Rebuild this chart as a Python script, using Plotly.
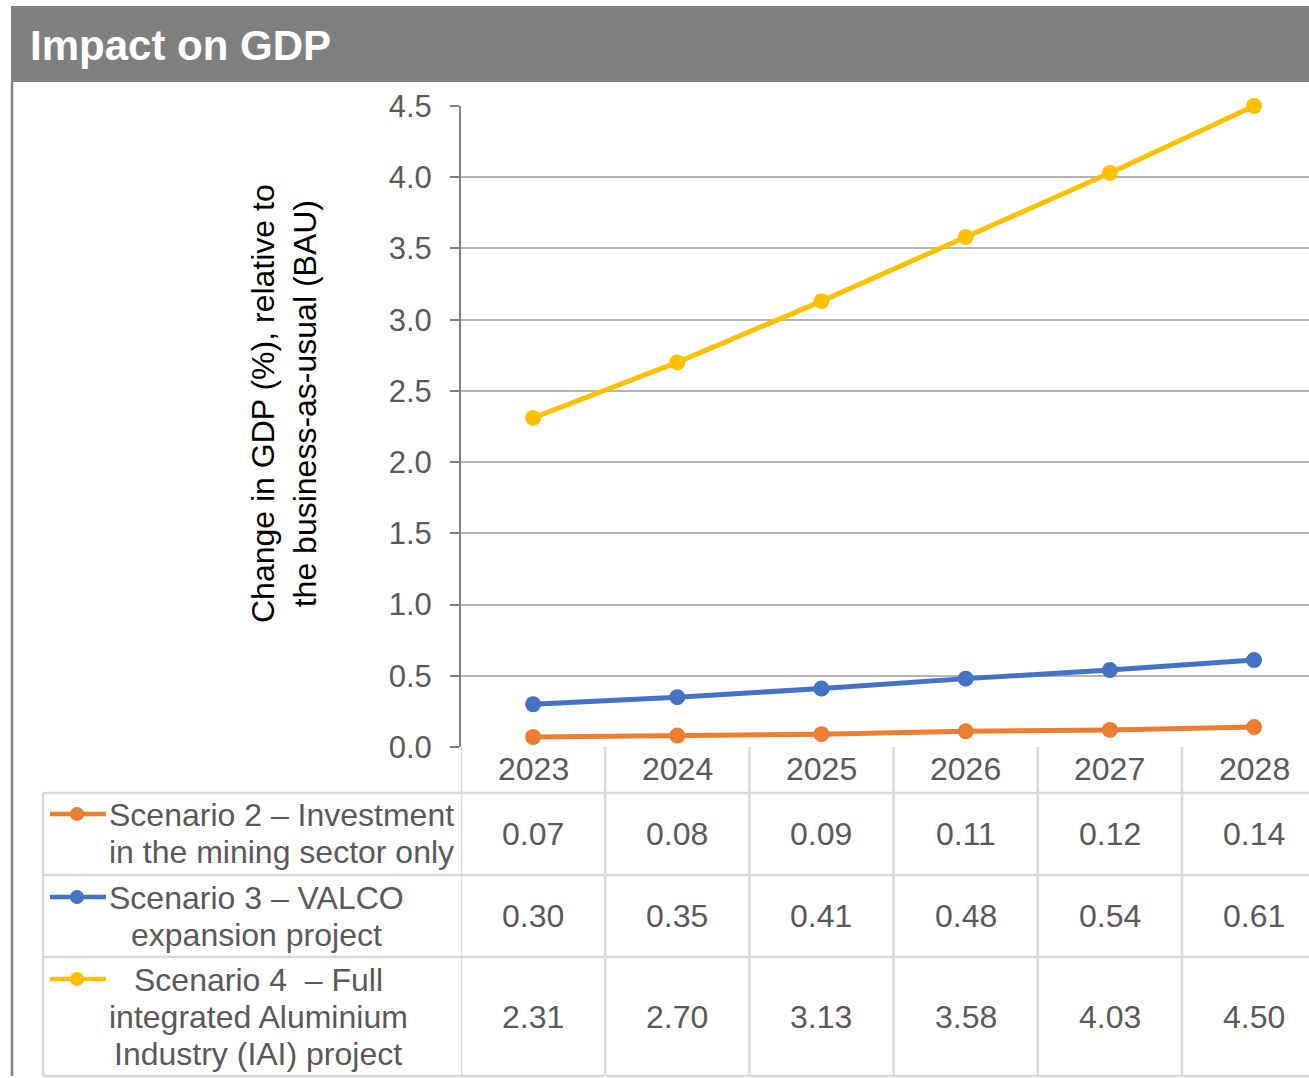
import plotly.graph_objects as go

# Data
years = ["2023", "2024", "2025", "2026", "2027", "2028"]
scenario_names = [
    "Scenario 2 – Investment<br>in the mining sector only",
    "Scenario 3 – VALCO<br>expansion project",
    "Scenario 4  – Full<br>integrated Aluminium<br>Industry (IAI) project",
]
scenario2 = [0.07, 0.08, 0.09, 0.11, 0.12, 0.14]
scenario3 = [0.30, 0.35, 0.41, 0.48, 0.54, 0.61]
scenario4 = [2.31, 2.70, 3.13, 3.58, 4.03, 4.50]
y_ticks = [0.0, 0.5, 1.0, 1.5, 2.0, 2.5, 3.0, 3.5, 4.0, 4.5]

series = [scenario2, scenario3, scenario4]
colors = ["#ED7D31", "#4472C4", "#FFC000"]

W, H = 1309, 1078
FONT = "Liberation Sans, Arial, sans-serif"
TXT = "#595959"
GRID_T = "#d9d9d9"
TABLE_SIZE = 32


def px(x):
    return x / W


def py(y):
    return 1 - y / H


fig = go.Figure()
xs = list(range(len(years)))
for vals, col, name in zip(series, colors, scenario_names):
    fig.add_trace(go.Scatter(
        x=xs, y=vals, mode="lines+markers", name=name,
        line=dict(color=col, width=5),
        marker=dict(color=col, size=16),
        cliponaxis=False, showlegend=False,
    ))

shapes = []
annotations = []

# Title banner
shapes.append(dict(type="rect", xref="paper", yref="paper",
                   x0=px(11), x1=1, y0=py(82), y1=py(6),
                   fillcolor="#7f7f7f", line=dict(width=0), layer="below"))
shapes.append(dict(type="line", xref="paper", yref="paper",
                   x0=px(12), x1=px(12), y0=py(82), y1=py(1076),
                   line=dict(color="#808080", width=2.5)))
annotations.append(dict(text="<b>Impact on GDP</b>", xref="paper", yref="paper",
                        x=px(28), y=py(45), xanchor="left", yanchor="middle",
                        showarrow=False, font=dict(family=FONT, size=42, color="white")))

# Axis title
annotations.append(dict(text="Change in GDP (%), relative to<br>the business-as-usual (BAU)",
                        xref="paper", yref="paper", x=px(284), y=py(404),
                        xanchor="center", yanchor="middle", textangle=-90,
                        showarrow=False,
                        font=dict(family=FONT, size=32, color="black")))

# Data table grid
row_lines = [793, 875, 957, 1076]
for yl in row_lines:
    shapes.append(dict(type="line", xref="paper", yref="paper",
                       x0=px(43), x1=1, y0=py(yl), y1=py(yl),
                       line=dict(color=GRID_T, width=2.5)))
shapes.append(dict(type="line", xref="paper", yref="paper",
                   x0=px(43), x1=px(43), y0=py(793), y1=py(1076),
                   line=dict(color=GRID_T, width=2.5)))
for k in range(len(years)):
    shapes.append(dict(type="line", xref="x", yref="paper",
                       x0=k - 0.5, x1=k - 0.5, y0=py(747), y1=py(1076),
                       line=dict(color=GRID_T, width=2.5)))

# Year header row
for k, yr in enumerate(years):
    annotations.append(dict(text=yr, xref="x", yref="paper", x=k, y=py(769),
                            xanchor="center", yanchor="middle", showarrow=False,
                            font=dict(family=FONT, size=TABLE_SIZE, color=TXT)))

# Value rows
row_centers = [834, 916, 1017]
for vals, yc in zip(series, row_centers):
    for k, v in enumerate(vals):
        annotations.append(dict(text=f"{v:.2f}", xref="x", yref="paper", x=k, y=py(yc),
                                xanchor="center", yanchor="middle", showarrow=False,
                                font=dict(family=FONT, size=TABLE_SIZE, color=TXT)))

# Legend keys and labels inside the table
key_y = [814, 897, 979]
label_x = [281, 256, 258]
line_gap = 37
for name, col, ky, lx in zip(scenario_names, colors, key_y, label_x):
    shapes.append(dict(type="line", xref="paper", yref="paper",
                       x0=px(50), x1=px(106), y0=py(ky), y1=py(ky),
                       line=dict(color=col, width=4.5)))
    shapes.append(dict(type="circle", xref="paper", yref="paper",
                       x0=px(70), x1=px(84), y0=py(ky + 7), y1=py(ky - 7),
                       fillcolor=col, line=dict(width=0)))
    for i, part in enumerate(name.split("<br>")):
        annotations.append(dict(text=part, xref="paper", yref="paper",
                                x=px(lx), y=py(ky + 1 + i * line_gap),
                                xanchor="center", yanchor="middle", showarrow=False,
                                font=dict(family=FONT, size=TABLE_SIZE, color=TXT)))

fig.update_layout(
    width=W, height=H,
    margin=dict(l=0, r=0, t=0, b=0, autoexpand=False),
    paper_bgcolor="white", plot_bgcolor="white",
    shapes=shapes, annotations=annotations,
    xaxis=dict(domain=[px(461), 1], range=[-0.5, 5.381], showticklabels=False,
               showgrid=False, zeroline=False, showline=False, ticks=""),
    yaxis=dict(domain=[py(747), py(106)], range=[0, 4.5], tickvals=y_ticks,
               tickformat=".1f", showgrid=True, gridcolor="#b4b4b4", gridwidth=1.5,
               zeroline=False, showline=True, linecolor="#808080", linewidth=2,
               ticks="outside", ticklen=9, tickcolor="#808080", tickwidth=2,
               ticklabelstandoff=12,
               tickfont=dict(family=FONT, size=31, color=TXT)),
)

fig.write_html("out.html")
